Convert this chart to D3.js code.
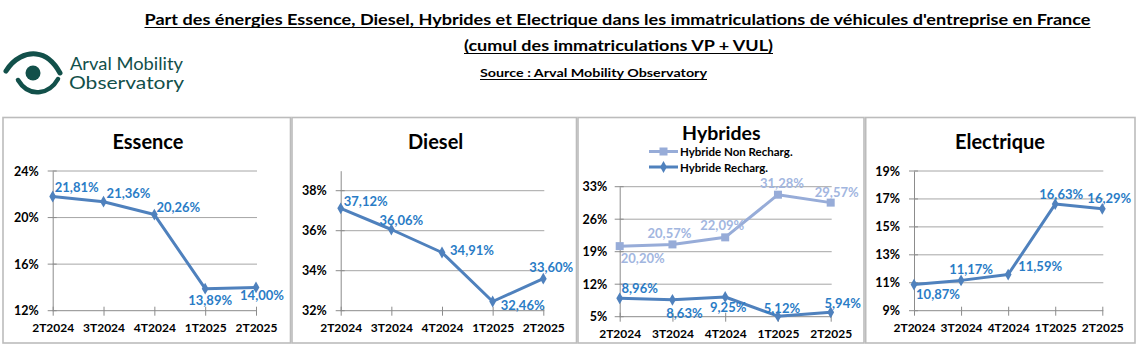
<!DOCTYPE html>
<html>
<head>
<meta charset="utf-8">
<script src="https://cdn.jsdelivr.net/npm/d3@7"></script>
<style>
  html, body { margin: 0; padding: 0; background: #fff; }
  svg { display: block; }
  text { font-family: Lato, "Open Sans", "Liberation Sans", sans-serif; }
</style>
</head>
<body>
<svg id="chart" width="1140" height="347"></svg>
<script>
// ---------- DATA ----------
const categories = ["2T2024", "3T2024", "4T2024", "1T2025", "2T2025"];
const essence = [21.81, 21.36, 20.26, 13.89, 14.00];
const diesel = [37.12, 36.06, 34.91, 32.46, 33.60];
const hybrideNonRecharg = [20.20, 20.57, 22.09, 31.28, 29.57];
const hybrideRecharg = [8.96, 8.63, 9.25, 5.12, 5.94];
const electrique = [10.87, 11.17, 11.59, 16.63, 16.29];

const essenceTicks = [12, 16, 20, 24];
const dieselTicks = [32, 34, 36, 38];
const hybridesTicks = [5, 12, 19, 26, 33];
const electriqueTicks = [9, 11, 13, 15, 17, 19];

const titleLine1 = "Part des énergies Essence, Diesel, Hybrides et Electrique dans les immatriculations de véhicules d'entreprise en France";
const titleLine2 = "(cumul des immatriculations VP + VUL)";
const sourceText = "Source : Arval Mobility Observatory";

// ---------- LAYOUT / STYLE ----------
const svg = d3.select("#chart");
svg.append("rect").attr("width", 1140).attr("height", 347).attr("fill", "#fff");

const BLUE = "#4f81bd", BLUE_LBL = "#2a7cc6";
const LIGHT = "#97acd8", LIGHT_LBL = "#a2b6df";
const fmt = v => d3.format(".2f")(v).replace(".", ",") + "%";

// Header title lines with underline
function headerText(txt, cx, baseline, size, len) {
  svg.append("text")
    .attr("x", cx).attr("y", baseline)
    .attr("text-anchor", "middle")
    .attr("font-size", size).attr("font-weight", 700)
    .attr("fill", "#000")
    .attr("textLength", len).attr("lengthAdjust", "spacingAndGlyphs")
    .text(txt);
  svg.append("line")
    .attr("x1", cx - len / 2).attr("x2", cx + len / 2)
    .attr("y1", baseline + 2.5).attr("y2", baseline + 2.5)
    .attr("stroke", "#000").attr("stroke-width", 1.2);
}
headerText(titleLine1, 617.5, 25, 16, 946);
headerText(titleLine2, 618.5, 51, 16, 309);
headerText(sourceText, 593.5, 77, 12, 227);

// Logo
const logo = svg.append("g");
const TEAL = "#12504a";
logo.append("path")
  .attr("d", "M6,71 C14,58 26,53 36,54 C46,55 54,62 60,73")
  .attr("fill", "none").attr("stroke", TEAL).attr("stroke-width", 5).attr("stroke-linecap", "round");
logo.append("path")
  .attr("d", "M18,80 C24,90 32,93 40,92 C48,91 54,86 58,79")
  .attr("fill", "none").attr("stroke", TEAL).attr("stroke-width", 4.5).attr("stroke-linecap", "round");
logo.append("circle").attr("cx", 33).attr("cy", 73).attr("r", 7.5).attr("fill", TEAL);
logo.append("text").attr("x", 70).attr("y", 70)
  .attr("font-family", "'Liberation Sans', Arial, sans-serif").attr("font-size", 16.5).attr("fill", TEAL)
  .attr("textLength", 113).attr("lengthAdjust", "spacingAndGlyphs")
  .text("Arval Mobility");
logo.append("text").attr("x", 69).attr("y", 88.5)
  .attr("font-family", "'Liberation Sans', Arial, sans-serif").attr("font-size", 16.5).attr("fill", TEAL)
  .attr("textLength", 115).attr("lengthAdjust", "spacingAndGlyphs")
  .text("Observatory");

// Panels
const panels = [
  { box: [3, 117.5, 287.5, 225.5], title: "Essence", tcx: 148, tby: 148.5,
    axisX: 52.7, lastX: 256, yTop: 171, yBot: 310.7, domain: [12, 24], ticks: essenceTicks, ylabOff: 14,
    series: [{ values: essence, color: BLUE, lbl: BLUE_LBL, marker: "diamond",
      off: [[24, -9], [25, -9], [24, -8], [5, 11], [6, 8]] }] },
  { box: [292, 117.5, 284.5, 225.5], title: "Diesel", tcx: 435.7, tby: 148.5,
    axisX: 340.7, lastX: 543.3, yTop: 170.7, yBot: 310.7, domain: [32, 39], ticks: dieselTicks, ylabOff: 14,
    series: [{ values: diesel, color: BLUE, lbl: BLUE_LBL, marker: "diamond",
      off: [[25, -7], [10, -10], [30, -3], [30, 3], [8, -12]] }] },
  { box: [578, 117.5, 286, 225.5], title: "Hybrides", tcx: 721.3, tby: 140, tsize: 19.5,
    axisX: 619.7, lastX: 830.7, yTop: 186.7, yBot: 316.7, domain: [5, 33], ticks: hybridesTicks, ylabOff: 12.5,
    legend: true,
    series: [
      { name: "Hybride Non Recharg.", values: hybrideNonRecharg, color: LIGHT, lbl: LIGHT_LBL, marker: "square",
        off: [[23, 12], [-3, -11], [-3, -12], [4, -12], [6, -11]] },
      { name: "Hybride Recharg.", values: hybrideRecharg, color: BLUE, lbl: BLUE_LBL, marker: "diamond",
        off: [[20, -10], [12, 13], [3, 10], [4, -8], [12, -9]] }] },
  { box: [865.7, 117.5, 269.3, 225.5], title: "Electrique", tcx: 1000, tby: 148.5,
    axisX: 914, lastX: 1102.3, yTop: 171, yBot: 310.7, domain: [9, 19], ticks: electriqueTicks, ylabOff: 14,
    series: [{ values: electrique, color: BLUE, lbl: BLUE_LBL, marker: "diamond",
      off: [[24, 9], [10, -11], [32, -9], [6, -10], [7, -11]] }] }
];

function drawMarker(g, type, x, y, color) {
  if (type === "square") {
    g.append("rect").attr("x", x - 4).attr("y", y - 4).attr("width", 8).attr("height", 8).attr("fill", color);
  } else {
    g.append("path").attr("d", d3.symbol(d3.symbolDiamond, 40)()).attr("transform", `translate(${x},${y})`).attr("fill", color);
  }
}

panels.forEach(p => {
  const g = svg.append("g");
  g.append("rect").attr("x", p.box[0]).attr("y", p.box[1]).attr("width", p.box[2]).attr("height", p.box[3])
    .attr("fill", "#fff").attr("stroke", "#bcbcbc").attr("stroke-width", 1.6);

  g.append("text").attr("x", p.tcx).attr("y", p.tby).attr("text-anchor", "middle")
    .attr("font-size", p.tsize || 20).attr("font-weight", 700).attr("fill", "#000").text(p.title);

  const x = d3.scalePoint().domain(categories).range([p.axisX, p.lastX]).padding(0);
  const y = d3.scaleLinear().domain(p.domain).range([p.yBot, p.yTop]);

  // gridlines
  g.selectAll(".grid").data(p.ticks.slice(1)).join("line")
    .attr("x1", p.axisX).attr("x2", p.lastX + 1)
    .attr("y1", d => y(d)).attr("y2", d => y(d))
    .attr("stroke", "#a6a6a6").attr("stroke-width", 1);

  // y axis
  const yAxis = d3.axisLeft(y).tickValues(p.ticks).tickSize(0).tickPadding(p.ylabOff).tickFormat(d => d + "%");
  const ya = g.append("g").attr("transform", `translate(${p.axisX},0)`).call(yAxis);
  ya.select(".domain").attr("stroke", "#8c8c8c");
  ya.selectAll("text").attr("font-size", 12.5).attr("font-weight", 700).attr("fill", "#000")
    .attr("font-family", "Lato, 'Open Sans', sans-serif");
  g.selectAll(".ytk").data(p.ticks).join("line")
    .attr("x1", p.axisX - 5).attr("x2", p.axisX + 4)
    .attr("y1", d => y(d)).attr("y2", d => y(d))
    .attr("stroke", "#8c8c8c").attr("stroke-width", 1);

  // x axis
  const xAxis = d3.axisBottom(x).tickSize(5).tickPadding(8);
  const xa = g.append("g").attr("transform", `translate(0,${p.yBot})`).call(xAxis);
  xa.select(".domain").attr("stroke", "#8c8c8c").attr("d", `M${p.axisX},0H${p.lastX + 1}`);
  xa.selectAll(".tick line").attr("stroke", "#8c8c8c").attr("y1", -4);
  xa.selectAll("text").attr("font-size", 12).attr("font-weight", 700).attr("fill", "#000")
    .attr("font-family", "Lato, 'Open Sans', sans-serif");

  // series
  p.series.forEach(s => {
    const line = d3.line().x((d, i) => x(categories[i])).y(d => y(d));
    g.append("path").datum(s.values).attr("d", line)
      .attr("fill", "none").attr("stroke", s.color).attr("stroke-width", 3).attr("stroke-linejoin", "round");
    s.values.forEach((v, i) => drawMarker(g, s.marker, x(categories[i]), y(v), s.color));
    s.values.forEach((v, i) => {
      g.append("text")
        .attr("x", x(categories[i]) + s.off[i][0]).attr("y", y(v) + s.off[i][1])
        .attr("text-anchor", "middle").attr("dominant-baseline", "central")
        .attr("font-size", 13).attr("font-weight", 700).attr("fill", s.lbl)
        .text(fmt(v));
    });
  });

  // legend
  if (p.legend) {
    const ly = [151.5, 167];
    p.series.forEach((s, i) => {
      g.append("line").attr("x1", 649).attr("x2", 678).attr("y1", ly[i]).attr("y2", ly[i])
        .attr("stroke", s.color).attr("stroke-width", 3);
      drawMarker(g, s.marker, 663.5, ly[i], s.color);
      g.append("text").attr("x", 680).attr("y", ly[i]).attr("dominant-baseline", "central")
        .attr("font-size", 11.5).attr("font-weight", 700).attr("fill", "#000").text(s.name);
    });
  }
});
</script>
</body>
</html>
